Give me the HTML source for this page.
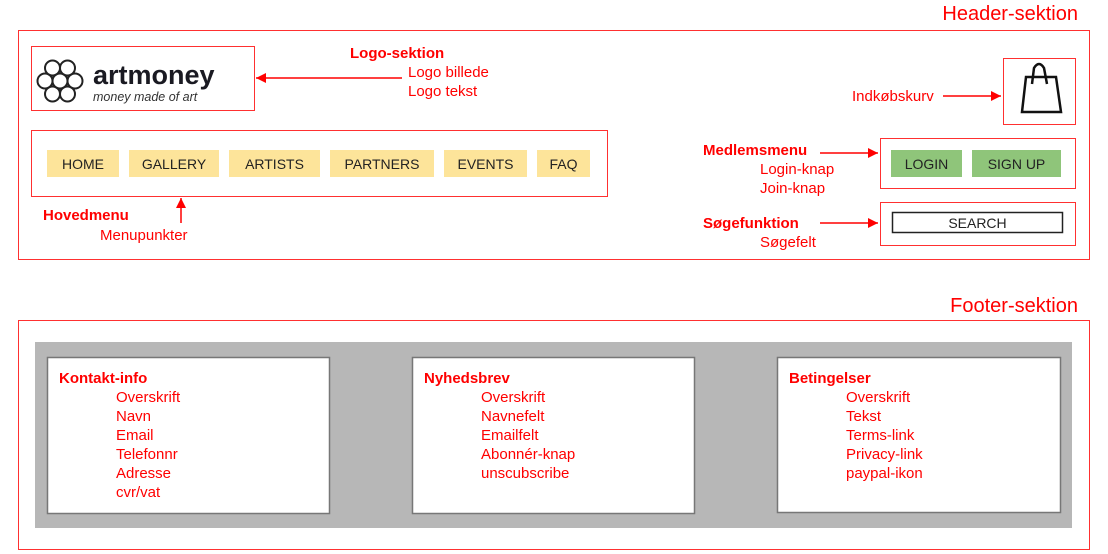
<!DOCTYPE html>
<html><head><meta charset="utf-8"><style>
html,body{margin:0;padding:0;background:#fff;}
svg{display:block;font-family:"Liberation Sans",Arial,sans-serif;}
</style></head><body>
<svg width="1108" height="554" viewBox="0 0 1108 554" xmlns="http://www.w3.org/2000/svg">
<defs><marker id="a" viewBox="0 0 10 10" refX="10" refY="5" markerWidth="10" markerHeight="10" markerUnits="userSpaceOnUse" orient="auto"><path d="M0,0 L10,5 L0,10 z" fill="#ff0000"/></marker></defs>
<g fill="none" stroke="#ff3030" stroke-width="1">
<rect x="18.5" y="30.5" width="1071" height="229"/>
<rect x="31.5" y="46.5" width="223" height="64"/>
<rect x="31.5" y="130.5" width="576" height="66"/>
<rect x="1003.5" y="58.5" width="72" height="66"/>
<rect x="880.5" y="138.5" width="195" height="50"/>
<rect x="880.5" y="202.5" width="195" height="43"/>
<rect x="18.5" y="320.5" width="1071" height="229"/>
</g>
<text x="1078" y="20" text-anchor="end" font-size="20" fill="#ff0000">Header-sektion</text>
<text x="1078" y="312" text-anchor="end" font-size="20" fill="#ff0000">Footer-sektion</text>
<!-- logo -->
<g fill="none" stroke="#222" stroke-width="2">
<circle cx="60" cy="81" r="7.5"/>
<circle cx="75" cy="81" r="7.5"/><circle cx="45" cy="81" r="7.5"/>
<circle cx="67.5" cy="68" r="7.5"/><circle cx="52.5" cy="68" r="7.5"/>
<circle cx="67.5" cy="94" r="7.5"/><circle cx="52.5" cy="94" r="7.5"/>
</g>
<text x="93" y="84" font-size="27" font-weight="bold" fill="#1a1a22">artmoney</text>
<text x="93" y="101" font-size="12.5" font-style="italic" fill="#333">money made of art</text>
<text x="350" y="58" font-size="15" font-weight="bold" fill="#ff0000">Logo-sektion</text>
<text x="408" y="77" font-size="15" fill="#ff0000">Logo billede</text>
<text x="408" y="96" font-size="15" fill="#ff0000">Logo tekst</text>
<line x1="402" y1="78" x2="256" y2="78" stroke="#ff0000" stroke-width="1.5" marker-end="url(#a)"/>
<!-- nav -->
<g fill="#fde49a">
<rect x="47" y="150" width="72" height="27"/><rect x="129" y="150" width="90" height="27"/><rect x="229" y="150" width="91" height="27"/><rect x="330" y="150" width="104" height="27"/><rect x="444" y="150" width="83" height="27"/><rect x="537" y="150" width="53" height="27"/>
</g>
<g font-size="14" fill="#222" text-anchor="middle">
<text x="83" y="169">HOME</text><text x="174" y="169">GALLERY</text><text x="274.5" y="169">ARTISTS</text><text x="382" y="169">PARTNERS</text><text x="485.5" y="169">EVENTS</text><text x="563.5" y="169">FAQ</text>
</g>
<text x="43" y="220" font-size="15" font-weight="bold" fill="#ff0000">Hovedmenu</text>
<text x="100" y="240" font-size="15" fill="#ff0000">Menupunkter</text>
<line x1="181" y1="223" x2="181" y2="198" stroke="#ff0000" stroke-width="1.5" marker-end="url(#a)"/>
<!-- cart -->
<path d="M1022,112 L1026,77 L1056,77 L1061,112 Z" fill="none" stroke="#111" stroke-width="2.5"/>
<path d="M1032,84 L1034,68 Q1039,60 1044,68 L1047,84" fill="none" stroke="#111" stroke-width="2.5"/>
<text x="852" y="101" font-size="15" fill="#ff0000">Indkøbskurv</text>
<line x1="943" y1="96" x2="1001" y2="96" stroke="#ff0000" stroke-width="1.5" marker-end="url(#a)"/>
<!-- member -->
<rect x="891" y="150" width="71" height="27" fill="#8fc57a"/>
<rect x="972" y="150" width="89" height="27" fill="#8fc57a"/>
<text x="926.5" y="169" font-size="14" fill="#222" text-anchor="middle">LOGIN</text>
<text x="1016.5" y="169" font-size="14" fill="#222" text-anchor="middle">SIGN UP</text>
<text x="703" y="155" font-size="15" font-weight="bold" fill="#ff0000">Medlemsmenu</text>
<text x="760" y="174" font-size="15" fill="#ff0000">Login-knap</text>
<text x="760" y="193" font-size="15" fill="#ff0000">Join-knap</text>
<line x1="820" y1="153" x2="878" y2="153" stroke="#ff0000" stroke-width="1.5" marker-end="url(#a)"/>
<!-- search -->
<rect x="892.5" y="212.5" width="170" height="20" fill="#fff" stroke="#222" stroke-width="1.5"/>
<text x="977.5" y="228" font-size="14" fill="#222" text-anchor="middle">SEARCH</text>
<text x="703" y="228" font-size="15" font-weight="bold" fill="#ff0000">Søgefunktion</text>
<text x="760" y="247" font-size="15" fill="#ff0000">Søgefelt</text>
<line x1="820" y1="223" x2="878" y2="223" stroke="#ff0000" stroke-width="1.5" marker-end="url(#a)"/>
<!-- footer -->
<rect x="35" y="342" width="1037" height="186" fill="#b7b7b7"/>
<g fill="#fff" stroke="#777" stroke-width="1.5">
<rect x="47.5" y="357.5" width="282" height="156"/>
<rect x="412.5" y="357.5" width="282" height="156"/>
<rect x="777.5" y="357.5" width="283" height="155"/>
</g>
<g font-size="15" fill="#ff0000">
<text x="59" y="383" font-weight="bold">Kontakt-info</text>
<text x="116" y="402">Overskrift</text><text x="116" y="421">Navn</text><text x="116" y="440">Email</text><text x="116" y="459">Telefonnr</text><text x="116" y="478">Adresse</text><text x="116" y="497">cvr/vat</text>
<text x="424" y="383" font-weight="bold">Nyhedsbrev</text>
<text x="481" y="402">Overskrift</text><text x="481" y="421">Navnefelt</text><text x="481" y="440">Emailfelt</text><text x="481" y="459">Abonnér-knap</text><text x="481" y="478">unscubscribe</text>
<text x="789" y="383" font-weight="bold">Betingelser</text>
<text x="846" y="402">Overskrift</text><text x="846" y="421">Tekst</text><text x="846" y="440">Terms-link</text><text x="846" y="459">Privacy-link</text><text x="846" y="478">paypal-ikon</text>
</g>
</svg>
</body></html>
